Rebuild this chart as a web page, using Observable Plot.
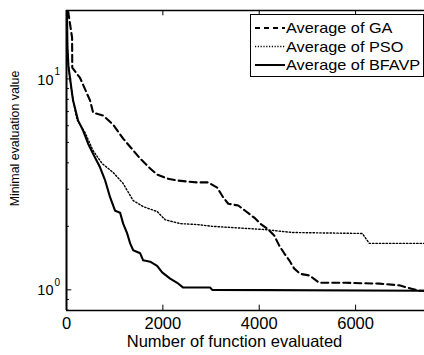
<!DOCTYPE html>
<html><head><meta charset="utf-8">
<script src="https://cdn.jsdelivr.net/npm/d3@7"></script>
<script src="https://cdn.jsdelivr.net/npm/@observablehq/plot@0.6"></script>
<style>
html,body{margin:0;padding:0;background:#fff;overflow:hidden;}
#chart{position:relative;width:424px;height:355px;font-family:"Liberation Sans",Arial,sans-serif;}
#legend{position:absolute;left:250px;top:14px;}
</style></head><body><div id="chart"></div>
<script>
const seriesNames = ["Average of GA", "Average of PSO", "Average of BFAVP"];
const gaX = [0, 33, 116, 120, 282, 490, 552, 760, 968, 1176, 1529, 1736, 1881, 2089, 2297, 2505, 2713, 2941, 3128, 3253, 3357, 3565, 3709, 3917, 4021, 4166, 4311, 4415, 4519, 4623, 4727, 4852, 5039, 5247, 5787, 6493, 6908, 7178, 7323, 7500];
const gaY = [30, 21, 15.7, 11.3, 10.1, 7.89, 6.92, 6.70, 6.07, 5.21, 4.19, 3.76, 3.52, 3.37, 3.30, 3.26, 3.23, 3.23, 3.05, 2.74, 2.56, 2.51, 2.37, 2.18, 2.06, 1.95, 1.81, 1.62, 1.49, 1.38, 1.26, 1.19, 1.17, 1.08, 1.08, 1.07, 1.05, 1.01, 0.99, 0.99];
const psoX = [0, 20, 40, 116, 137, 220, 386, 552, 739, 968, 1176, 1384, 1591, 1881, 2048, 2360, 2713, 3024, 4125, 4686, 6139, 6285, 7500];
const psoY = [30, 14, 11.5, 8.5, 7.89, 6.4, 5.56, 4.57, 3.97, 3.60, 3.19, 2.65, 2.48, 2.35, 2.15, 2.06, 2.04, 2.00, 1.93, 1.87, 1.85, 1.66, 1.66];
const bfX = [0, 20, 40, 116, 137, 241, 345, 449, 552, 698, 802, 906, 1010, 1113, 1176, 1259, 1321, 1384, 1529, 1591, 1736, 1881, 1985, 2151, 2297, 2422, 2983, 3024, 7500];
const bfY = [30, 14, 11.5, 8.51, 7.89, 6.34, 5.69, 4.93, 4.42, 3.80, 3.30, 2.74, 2.37, 2.32, 2.06, 1.85, 1.66, 1.54, 1.49, 1.38, 1.36, 1.30, 1.21, 1.13, 1.08, 1.025, 1.025, 1.0, 0.99];
const xTicks = [0, 2000, 4000, 6000];
const yTicks = [1, 10];
const yMinor = [0.8, 0.9, 2, 3, 4, 5, 6, 7, 8, 9, 20];
const xDomain = [0, 7430];
const yDomain = [0.798, 21.1];
const xLabel = "Number of function evaluated";
const yLabel = "Minimal evaluation value";

const toRows = (xs, ys) => xs.map((x, i) => ({x, y: ys[i]}));
const ga = toRows(gaX, gaY), pso = toRows(psoX, psoY), bf = toRows(bfX, bfY);
const legendStyles = [
  {strokeWidth: 2, strokeDasharray: "5,4"},
  {strokeWidth: 1.3, strokeDasharray: "1.2,1.6"},
  {strokeWidth: 2, strokeDasharray: null}
];

const chart = Plot.plot({
  width: 424, height: 355,
  marginTop: 10, marginBottom: 45, marginLeft: 66, marginRight: 0,
  x: {domain: xDomain, axis: null},
  y: {type: "log", domain: yDomain, axis: null},
  style: {fontFamily: "Liberation Sans, Arial, sans-serif", background: "white", color: "black", overflow: "visible"},
  marks: [
    Plot.line(ga, {x: "x", y: "y", stroke: "black", strokeWidth: 2.1, strokeDasharray: "7,4", clip: true}),
    Plot.line(pso, {x: "x", y: "y", stroke: "black", strokeWidth: 1.4, strokeDasharray: "1.4,2", clip: true}),
    Plot.line(bf, {x: "x", y: "y", stroke: "black", strokeWidth: 2.1, clip: true}),
    Plot.ruleX([xDomain[0]], {stroke: "black", strokeWidth: 2}),
    Plot.ruleY([yDomain[0]], {stroke: "black", strokeWidth: 1.5}),
    Plot.ruleY([yDomain[1]], {stroke: "black", strokeWidth: 1.5}),
    Plot.ruleY(yTicks, {x1: 0, x2: 110, stroke: "black"}),
    Plot.ruleY(yMinor, {x1: 0, x2: 60, stroke: "black"}),
    Plot.ruleX(xTicks.slice(1), {y1: yDomain[0], y2: yDomain[0] * 1.06, stroke: "black"}),
    Plot.ruleX(xTicks.slice(1), {y1: yDomain[1], y2: yDomain[1] / 1.06, stroke: "black"}),
    Plot.text(xTicks, {x: d => d, text: d => String(d), frameAnchor: "bottom", dy: 13, fontSize: 16.5, lineAnchor: "middle"}),
    Plot.text(yTicks, {y: d => d, text: () => "10", frameAnchor: "left", dx: -13, dy: 1, textAnchor: "end", fontSize: 14.5, lineAnchor: "middle"}),
    Plot.text(yTicks, {y: d => d, text: d => String(Math.round(Math.log10(d))), frameAnchor: "left", dx: -12, dy: -7, textAnchor: "start", fontSize: 10, lineAnchor: "middle"}),
    Plot.text([xLabel], {frameAnchor: "bottom", dx: -11, dy: 31, fontSize: 16.5, lineAnchor: "middle"}),
    Plot.text([yLabel], {frameAnchor: "left", rotate: -90, dx: -51, dy: -22, fontSize: 12.4, textAnchor: "middle", lineAnchor: "middle"})
  ]
});
const root = document.getElementById("chart");
root.appendChild(chart);

// legend
const lg = d3.select(root).append("svg").attr("id", "legend").attr("width", 174).attr("height", 64);
lg.append("rect").attr("x", 0.5).attr("y", 0.5).attr("width", 173).attr("height", 62)
  .attr("fill", "white").attr("stroke", "black");
const rowY = [14, 32.5, 51];
seriesNames.forEach((name, i) => {
  const l = lg.append("line").attr("x1", 5).attr("x2", 35).attr("y1", rowY[i]).attr("y2", rowY[i])
    .attr("stroke", "black").attr("stroke-width", legendStyles[i].strokeWidth);
  if (legendStyles[i].strokeDasharray) l.attr("stroke-dasharray", legendStyles[i].strokeDasharray);
  const t = lg.append("text").attr("x", 36).attr("y", rowY[i]).attr("dy", "0.36em")
    .attr("font-size", 15).attr("font-family", "Liberation Sans, Arial, sans-serif").text(name);
  const w = t.node().getComputedTextLength();
  t.attr("textLength", w * 1.085).attr("lengthAdjust", "spacingAndGlyphs");
});
</script></body></html>
